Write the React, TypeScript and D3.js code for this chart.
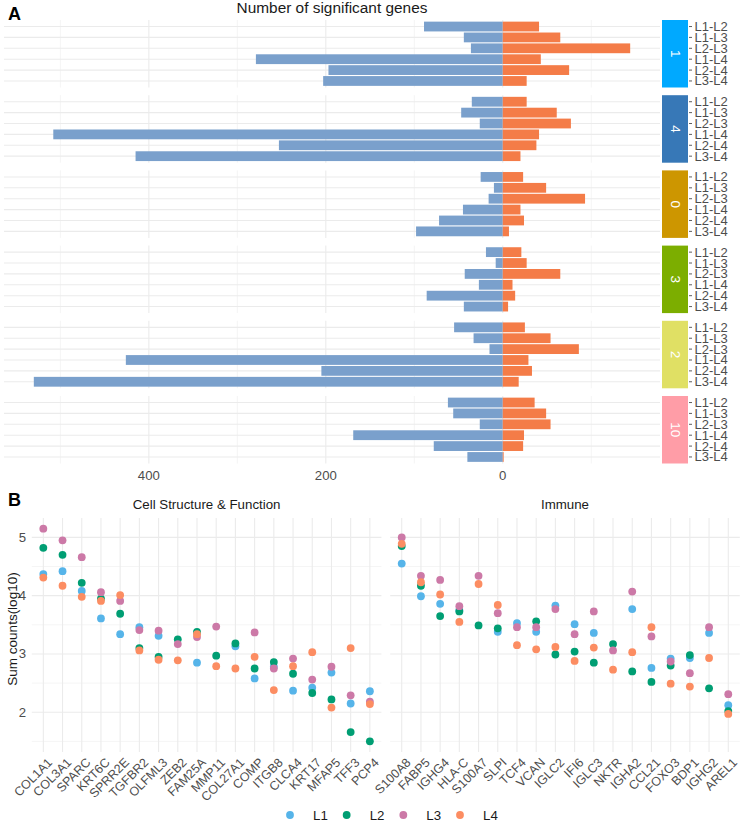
import React, { useEffect, useRef } from "react";
import * as d3 from "d3";

// Panel A: number of significant genes per cluster and layer comparison
const clusters = ["1", "4", "0", "3", "2", "10"];
const clusterColors = ["#00A9FF", "#3778B7", "#CD9600", "#7CAE00", "#E0E064", "#FF9DA7"];
const comparisons = ["L1-L2", "L1-L3", "L2-L3", "L1-L4", "L2-L4", "L3-L4"];

// down-regulated counts (drawn to the left)
const downCounts = [
  [89, 44, 36, 279, 197, 203],
  [35, 47, 26, 508, 253, 415],
  [25, 10, 16, 45, 72, 98],
  [19, 8, 43, 27, 86, 44],
  [55, 33, 15, 426, 205, 530],
  [62, 56, 26, 169, 78, 40],
];
// up-regulated counts (drawn to the right)
const upCounts = [
  [41, 65, 144, 43, 75, 27],
  [27, 61, 77, 41, 38, 20],
  [23, 49, 93, 20, 24, 7],
  [21, 27, 65, 11, 14, 6],
  [25, 54, 86, 29, 33, 18],
  [36, 49, 54, 24, 23, 1],
];

// Panel B: summed counts per layer (log10)
const layers = ["L1", "L2", "L3", "L4"];
const layerColors = ["#56B4E9", "#009E73", "#CC79A7", "#FC8D62"];

const cellGenes = ["COL1A1", "COL3A1", "SPARC", "KRT6C", "SPRR2E", "TGFBR2", "OLFML3", "ZEB2", "FAM25A", "MMP11", "COL27A1", "COMP", "ITGB8", "CLCA4", "KRT17", "MFAP5", "TFF3", "PCP4"];
const cellL1 = [4.37, 4.42, 4.08, 3.61, 3.34, 3.46, 3.31, null, 2.85, null, 3.13, 2.58, 2.78, 2.37, 2.42, 2.68, 2.15, 2.36];
const cellL2 = [4.82, 4.70, 4.22, 3.95, 3.69, 3.10, 2.95, 3.25, 3.38, 2.97, 3.18, 2.75, 2.86, 2.66, 2.33, 2.22, 1.66, 1.50];
const cellL3 = [5.15, 4.95, 4.66, 4.06, 3.91, 3.41, 3.40, 3.17, 3.29, 3.47, null, 3.37, 2.75, 2.92, 2.56, 2.78, 2.29, 2.18];
const cellL4 = [4.31, 4.17, 3.98, 3.91, 4.01, 3.06, 2.90, 2.89, 3.34, 2.79, 2.75, 2.95, 2.38, 2.79, 3.03, 2.08, 3.10, 2.14];

const immuneGenes = ["S100A8", "FABP5", "IGHG4", "HLA-C", "S100A7", "SLPI", "TCF4", "VCAN", "IGLC2", "IFI6", "IGLC3", "NKTR", "IGHA2", "CCL21", "FOXO3", "BDP1", "IGHG2", "AREL1"];
const immuneL1 = [4.55, 3.99, 3.86, 3.75, null, 3.38, 3.53, 3.38, 3.83, 3.51, 3.36, null, 3.77, 2.76, 2.92, 2.93, 3.36, 2.12];
const immuneL2 = [4.85, 4.17, 3.65, 3.73, 3.49, 3.44, null, 3.56, 2.99, 3.04, 2.85, 3.17, 2.70, 2.52, 2.80, 2.98, 2.41, 2.02];
const immuneL3 = [5.00, 4.34, 4.27, 3.82, 4.34, 3.70, 3.46, 3.46, 3.77, 3.34, 3.73, 3.06, 4.07, 3.30, 2.87, 2.67, 3.46, 2.31];
const immuneL4 = [4.89, 4.23, 4.02, 3.55, 4.20, 3.84, 3.15, 3.08, 3.12, 2.88, 3.11, 2.73, 3.03, 3.46, 2.49, 2.44, 2.93, 1.97];

const groups = [
  { title: "Cell Structure & Function", genes: cellGenes, values: [cellL1, cellL2, cellL3, cellL4] },
  { title: "Immune", genes: immuneGenes, values: [immuneL1, immuneL2, immuneL3, immuneL4] },
];

const FONT = "'Liberation Sans', Arial, sans-serif";
const GRID = "#ebebeb";
const TEXT = "#4d4d4d";

const App: React.FC = () => {
  const svgRef = useRef<SVGSVGElement>(null);

  useEffect(() => {
    if (!svgRef.current) return;
    const svg = d3.select(svgRef.current);
    svg.selectAll("*").remove();
    svg.attr("font-family", FONT);

    // ---------- Panel A ----------
    const aLeft = 4;
    const aRight = 660;
    const aTop = 20;
    const facetH = 67.5;
    const facetGap = 7.7;

    const minVal = -d3.max(downCounts.flat())!;
    const maxVal = d3.max(upCounts.flat())!;
    const pad = (maxVal - minVal) * 0.05;
    const x = d3.scaleLinear().domain([minVal - pad, maxVal + pad]).range([aLeft, aRight]);
    const [dLo, dHi] = x.domain();

    const major = [-600, -400, -200, 0, 200].filter((v) => v >= dLo && v <= dHi);
    const minor = [-500, -300, -100, 100].filter((v) => v >= dLo && v <= dHi);

    svg.append("text").attr("x", 8).attr("y", 20).attr("font-size", 18).attr("font-weight", "bold").text("A");
    svg
      .append("text")
      .attr("x", (aLeft + aRight) / 2)
      .attr("y", 12.5)
      .attr("text-anchor", "middle")
      .attr("font-size", 15.4)
      .attr("fill", "#1a1a1a")
      .text("Number of significant genes");

    clusters.forEach((cl, i) => {
      const top = aTop + i * (facetH + facetGap);
      const y = d3.scalePoint<string>().domain(comparisons).range([top, top + facetH]).padding(0.6);
      const bw = y.step() * 0.9;
      const g = svg.append("g");

      minor.forEach((v) =>
        g.append("line").attr("x1", x(v)).attr("x2", x(v)).attr("y1", top).attr("y2", top + facetH)
          .attr("stroke", GRID).attr("stroke-width", 0.55)
      );
      major.forEach((v) =>
        g.append("line").attr("x1", x(v)).attr("x2", x(v)).attr("y1", top).attr("y2", top + facetH)
          .attr("stroke", GRID).attr("stroke-width", 1.1)
      );
      comparisons.forEach((c) =>
        g.append("line").attr("x1", aLeft).attr("x2", aRight).attr("y1", y(c)!).attr("y2", y(c)!)
          .attr("stroke", GRID).attr("stroke-width", 1.1)
      );

      g.selectAll("rect.down")
        .data(downCounts[i])
        .join("rect")
        .attr("x", (d) => x(-d))
        .attr("width", (d) => x(0) - x(-d))
        .attr("y", (_, j) => y(comparisons[j])! - bw / 2)
        .attr("height", bw)
        .attr("fill", "#7AA0CC");

      g.selectAll("rect.up")
        .data(upCounts[i])
        .join("rect")
        .attr("x", x(0))
        .attr("width", (d) => x(d) - x(0))
        .attr("y", (_, j) => y(comparisons[j])! - bw / 2)
        .attr("height", bw)
        .attr("fill", "#F47C48");

      // strip
      g.append("rect").attr("x", 662).attr("y", top).attr("width", 26).attr("height", facetH).attr("fill", clusterColors[i]);
      g.append("text")
        .attr("transform", `translate(675,${top + facetH / 2}) rotate(90)`)
        .attr("text-anchor", "middle")
        .attr("dominant-baseline", "central")
        .attr("font-size", 13.5)
        .attr("fill", "white")
        .text(cl);

      // right-hand axis
      comparisons.forEach((c) => {
        g.append("line").attr("x1", 689).attr("x2", 692).attr("y1", y(c)!).attr("y2", y(c)!)
          .attr("stroke", "#333").attr("stroke-width", 0.8);
        g.append("text").attr("x", 694.5).attr("y", y(c)!).attr("dominant-baseline", "central")
          .attr("font-size", 13).attr("fill", TEXT).text(c);
      });
    });

    major.forEach((v) =>
      svg.append("text").attr("x", x(v)).attr("y", 479.5).attr("text-anchor", "middle")
        .attr("font-size", 13.2).attr("fill", TEXT).text(Math.abs(v))
    );

    // ---------- Panel B ----------
    const bTop = 518;
    const bBottom = 752;
    const panelX = [
      [31.8, 381.4],
      [390.2, 739.8],
    ];

    const allVals = groups.flatMap((gr) => gr.values.flat()).filter((v): v is number => v != null);
    const yLo = d3.min(allVals)!;
    const yHi = d3.max(allVals)!;
    const yPad = (yHi - yLo) * 0.05;
    const yB = d3.scaleLinear().domain([yLo - yPad, yHi + yPad]).range([bBottom, bTop]);

    svg.append("text").attr("x", 8).attr("y", 506).attr("font-size", 18).attr("font-weight", "bold").text("B");

    groups.forEach((gr, gi) => {
      const [l, r] = panelX[gi];
      const xb = d3.scalePoint<string>().domain(gr.genes).range([l, r]).padding(0.6);
      const g = svg.append("g");

      [1.5, 2.5, 3.5, 4.5].forEach((v) =>
        g.append("line").attr("x1", l).attr("x2", r).attr("y1", yB(v)).attr("y2", yB(v))
          .attr("stroke", GRID).attr("stroke-width", 0.55)
      );
      [2, 3, 4, 5].forEach((v) =>
        g.append("line").attr("x1", l).attr("x2", r).attr("y1", yB(v)).attr("y2", yB(v))
          .attr("stroke", GRID).attr("stroke-width", 1.1)
      );
      gr.genes.forEach((gene) =>
        g.append("line").attr("x1", xb(gene)!).attr("x2", xb(gene)!).attr("y1", bTop).attr("y2", bBottom)
          .attr("stroke", GRID).attr("stroke-width", 1.1)
      );

      g.append("text").attr("x", (l + r) / 2).attr("y", 508.5).attr("text-anchor", "middle")
        .attr("font-size", 13.3).attr("fill", "#1a1a1a").text(gr.title);

      gr.values.forEach((vals, li) => {
        g.selectAll(`circle.l${li}`)
          .data(vals.map((v, j) => ({ v, gene: gr.genes[j] })).filter((d) => d.v != null))
          .join("circle")
          .attr("cx", (d) => xb(d.gene)!)
          .attr("cy", (d) => yB(d.v as number))
          .attr("r", 3.9)
          .attr("fill", layerColors[li]);
      });

      gr.genes.forEach((gene) =>
        g.append("text")
          .attr("transform", `translate(${xb(gene)! + 3.5},757) rotate(-45)`)
          .attr("text-anchor", "end")
          .attr("dominant-baseline", "hanging")
          .attr("font-size", 12.5)
          .attr("fill", TEXT)
          .text(gene)
      );
    });

    [2, 3, 4, 5].forEach((v) =>
      svg.append("text").attr("x", 26).attr("y", yB(v)).attr("text-anchor", "end").attr("dominant-baseline", "central")
        .attr("font-size", 13.2).attr("fill", TEXT).text(v)
    );
    svg.append("text")
      .attr("transform", `translate(12,${(bTop + bBottom) / 2 - 6}) rotate(-90)`)
      .attr("text-anchor", "middle")
      .attr("dominant-baseline", "central")
      .attr("font-size", 13.5)
      .attr("fill", "#1a1a1a")
      .text("Sum counts(log10)");

    // legend
    const legendX = d3.scalePoint<string>().domain(layers).range([290, 460]);
    layers.forEach((ly, i) => {
      svg.append("circle").attr("cx", legendX(ly)!).attr("cy", 815).attr("r", 3.9).attr("fill", layerColors[i]);
      svg.append("text").attr("x", legendX(ly)! + 23).attr("y", 815).attr("dominant-baseline", "central")
        .attr("font-size", 13.3).attr("fill", "#1a1a1a").text(ly);
    });
  }, []);

  return (
    <svg
      ref={svgRef}
      width={740}
      height={821}
      style={{ position: "absolute", left: 0, top: 0, background: "white" }}
    />
  );
};

export default App;
